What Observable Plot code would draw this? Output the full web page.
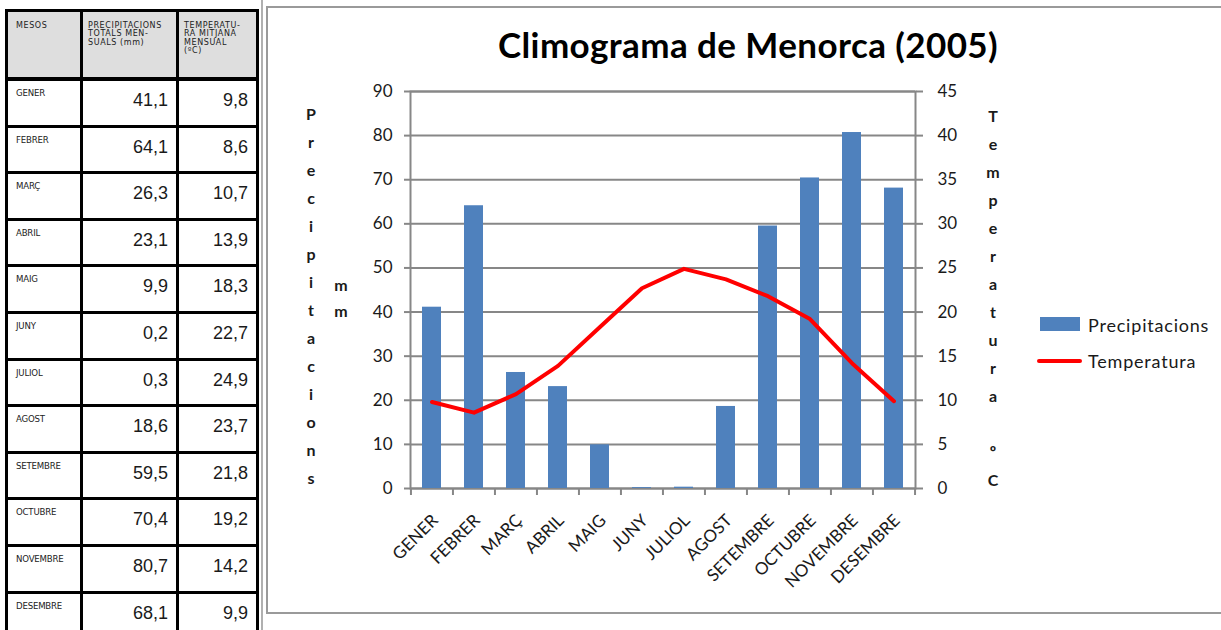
<!DOCTYPE html>
<html><head><meta charset="utf-8">
<script src="https://cdn.jsdelivr.net/npm/d3@7"></script>
<script src="https://cdn.jsdelivr.net/npm/@observablehq/plot@0.6"></script>
<style>
html,body{margin:0;padding:0;background:#fff;}
#page{position:relative;width:1221px;height:630px;overflow:hidden;font-family:Lato,sans-serif;color:#1a1a1a;}
.abs{position:absolute;}
#tbl{position:absolute;left:5px;top:9px;width:254px;height:640px;background:#000;}
.cell{position:absolute;background:#fff;box-sizing:border-box;}
.hdr{background:#dedede;font-family:"DejaVu Sans",sans-serif;font-size:8px;line-height:8.4px;color:#222;letter-spacing:0.6px;}
.mon{font-family:"DejaVu Sans",sans-serif;font-size:8.6px;line-height:9px;color:#222;padding:8px 0 0 8px;letter-spacing:-0.2px;}
.num{font-family:"Liberation Sans",Arial,sans-serif;font-size:18px;line-height:20px;color:#1a1a1a;text-align:right;padding:9px 8px 0 0;}
#box{position:absolute;left:266px;top:6px;width:1000px;height:604px;border:2px solid #9a9a9a;}
#vline{position:absolute;left:261px;top:0;width:2px;height:630px;background:#b0b0b0;}
#title{position:absolute;left:398px;top:23.5px;width:700px;text-align:center;font:bold 35px/40px Lato,sans-serif;letter-spacing:0.4px;color:#000;}
.vt{position:absolute;text-align:center;font-weight:bold;font-size:16px;color:#1a1a1a;}
.leg{position:absolute;font-size:18px;line-height:20px;letter-spacing:0.8px;color:#1a1a1a;}
#chart{position:absolute;left:272px;top:10px;}
</style></head>
<body><div id="page">
<div id="tbl"></div>
<div id="vline"></div>
<div id="box"></div>
<div id="title"></div>
<div id="ytl" class="vt" style="left:300px;top:99.8px;width:22px;line-height:28px;"></div>
<div id="ytu" class="vt" style="left:327px;top:271.8px;width:28px;line-height:26px;"></div>
<div id="ytr" class="vt" style="left:982px;top:101.8px;width:22px;line-height:28px;"></div>
<div class="abs" id="legRect" style="left:1040px;top:317px;width:40px;height:14px;background:#4F81BD;"></div>
<div class="leg" id="leg1" style="left:1088px;top:315px;"></div>
<div class="abs" id="legLine" style="left:1037px;top:359px;width:45px;height:4px;background:#ff0000;border-radius:2px;"></div>
<div class="leg" id="leg2" style="left:1088px;top:351px;"></div>
<div id="chart"></div>
</div>
<script>
// ---- data ----
const months = ["GENER","FEBRER","MARÇ","ABRIL","MAIG","JUNY","JULIOL","AGOST","SETEMBRE","OCTUBRE","NOVEMBRE","DESEMBRE"];
const precip = [41.1,64.1,26.3,23.1,9.9,0.2,0.3,18.6,59.5,70.4,80.7,68.1];
const temps = [9.8,8.6,10.7,13.9,18.3,22.7,24.9,23.7,21.8,19.2,14.2,9.9];
const precipTicks = [0,10,20,30,40,50,60,70,80,90];
const tempTicks = [0,5,10,15,20,25,30,35,40,45];
const mmPerDegree = 2; // 90 mm on the left axis matches 45 ºC on the right axis
const titleText = "Climograma de Menorca (2005)";
const yTitleLeft = "Precipitacions";
const yUnitLeft = "mm";
const yTitleRight = "Temperatura ºC";
const legendLabels = ["Precipitacions","Temperatura"];
const tableHeaders = ["MESOS","PRECIPITACIONS\nTOTALS MEN-\nSUALS (mm)","TEMPERATU-\nRA MITJANA\nMENSUAL\n(ºC)"];

// ---- text blocks ----
document.getElementById("title").textContent = titleText;
const stack = (s) => s.split("").map(c => c === " " ? "&nbsp;" : c).join("<br>");
document.getElementById("ytl").innerHTML = stack(yTitleLeft);
document.getElementById("ytu").innerHTML = stack(yUnitLeft);
document.getElementById("ytr").innerHTML = stack(yTitleRight);
document.getElementById("leg1").textContent = legendLabels[0];
document.getElementById("leg2").textContent = legendLabels[1];

// ---- table ----
const tbl = document.getElementById("tbl");
const colX = [3,78,174], colW = [72,93,77];
const fmt = v => v.toFixed(1).replace(".", ",");
tableHeaders.forEach((h,j) => {
  const d = document.createElement("div");
  d.className = "cell hdr";
  Object.assign(d.style,{left:colX[j]+"px",top:"3px",width:colW[j]+"px",height:"65px",padding:"10px 0 0 "+(j===0?8:5)+"px"});
  d.innerHTML = h.split("\n").join("<br>");
  tbl.appendChild(d);
});
months.forEach((m,i) => {
  const top = 72 + i*46.6;
  const vals = [m, fmt(precip[i]), fmt(temps[i])];
  vals.forEach((v,j) => {
    const d = document.createElement("div");
    d.className = "cell " + (j===0 ? "mon" : "num");
    Object.assign(d.style,{left:colX[j]+"px",top:top+"px",width:colW[j]+"px",height:"43.6px"});
    d.textContent = v;
    tbl.appendChild(d);
  });
});

// ---- chart ----
const W=940,H=600,mL=138,mR=297,mT=81,mB=122;
const step=(W-mL-mR)/months.length;
const data = months.map((m,i)=>({month:m, precip:precip[i], temp:temps[i]}));
const grid="#878787";
const chart = Plot.plot({
  width:W,height:H,marginLeft:mL,marginRight:mR,marginTop:mT,marginBottom:mB,
  style:{background:"transparent",fontFamily:"Lato, sans-serif",color:"#1a1a1a",overflow:"visible"},
  x:{type:"band",domain:months,paddingInner:0.55,paddingOuter:0.275,axis:null},
  y:{domain:[0,90],axis:null},
  marks:[
    Plot.ruleY(precipTicks,{stroke:grid,strokeWidth:2}),
    Plot.frame({stroke:grid,strokeWidth:2}),
    Plot.axisY(precipTicks,{anchor:"left",tickSize:6,tickPadding:12,stroke:grid,strokeWidth:2,fontSize:17,label:null}),
    Plot.axisY(tempTicks.map(t=>t*mmPerDegree),{anchor:"right",tickSize:7,tickPadding:15,tickFormat:d=>d/mmPerDegree,stroke:grid,strokeWidth:2,fontSize:17,label:null}),
    Plot.axisX(months,{tickSize:7,dx:-step/2,tickFormat:()=>"",stroke:grid,strokeWidth:2,label:null}),
    Plot.axisX([months[months.length-1]],{tickSize:7,dx:step/2,tickFormat:()=>"",stroke:grid,strokeWidth:2,label:null}),
    Plot.barY(data,{x:"month",y:"precip",fill:"#4F81BD"}),
    Plot.line(data,{x:"month",y:d=>d.temp*mmPerDegree,stroke:"#ff0000",strokeWidth:4}),
    Plot.text(data,{x:"month",frameAnchor:"bottom",text:"month",rotate:-45,textAnchor:"end",dx:7,dy:33,fontSize:17,fill:"#1a1a1a"})
  ]
});
document.getElementById("chart").appendChild(chart);
</script>
</body></html>
